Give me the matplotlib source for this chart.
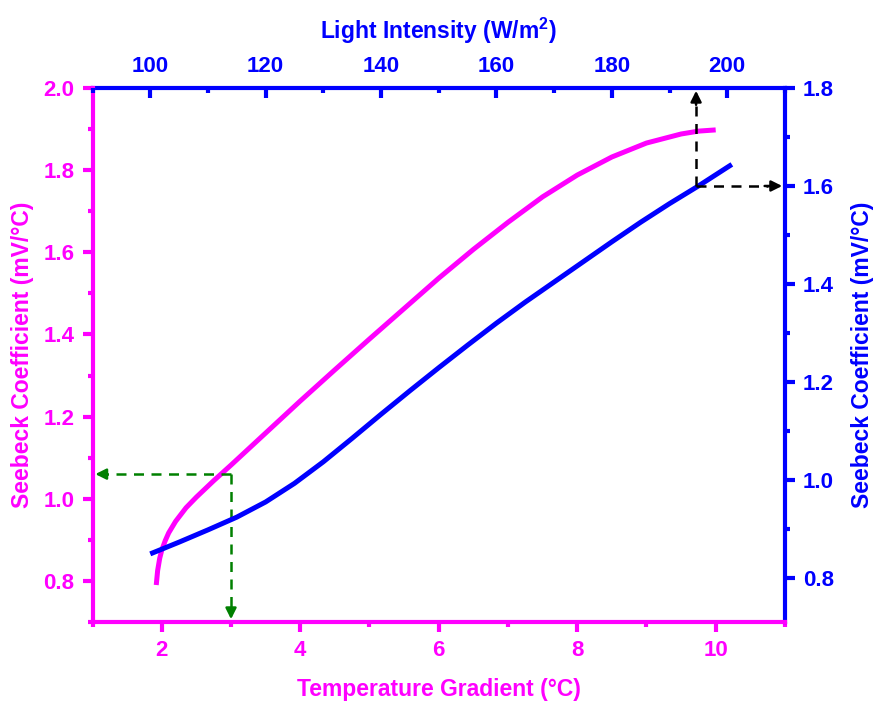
import matplotlib
matplotlib.use("Agg")
import matplotlib.pyplot as plt
import numpy as np
from matplotlib.ticker import MultipleLocator

plt.rcParams['font.family'] = ['Liberation Sans', 'DejaVu Sans']
plt.rcParams['font.weight'] = 'bold'
plt.rcParams['mathtext.fontset'] = 'custom'
plt.rcParams['mathtext.bf'] = 'Liberation Sans:bold'
plt.rcParams['mathtext.rm'] = 'Liberation Sans:bold'

# Temperature gradient series (bottom x / left y)
temp_x = [1.92, 1.94, 1.97, 2.0, 2.05, 2.1, 2.2, 2.35, 2.5, 2.75, 3.0, 3.5, 4.0, 4.5, 5.0, 5.5, 6.0,
          6.5, 7.0, 7.5, 8.0, 8.5, 9.0, 9.5, 9.75, 10.0]
temp_s = [0.79, 0.825, 0.855, 0.875, 0.898, 0.917, 0.945, 0.978, 1.004, 1.044, 1.082, 1.16, 1.238,
          1.314, 1.389, 1.463, 1.537, 1.607, 1.673, 1.735, 1.788, 1.832, 1.866, 1.888, 1.895, 1.898]

# Light intensity series (top x / right y)
light_x = [100, 105, 110, 115, 120, 125, 130, 135, 140, 145, 150, 155, 160, 165, 170, 175, 180,
           185, 190, 195, 200, 200.8]
light_s = [0.849, 0.873, 0.898, 0.924, 0.955, 0.993, 1.037, 1.085, 1.134, 1.182, 1.229, 1.275,
           1.320, 1.363, 1.404, 1.445, 1.486, 1.526, 1.564, 1.600, 1.638, 1.644]

# Guide markers
green_pt = (3.0, 1.06)
black_pt = (194.6, 1.6)

MAG = '#FF00FF'
BLU = '#0000FF'
TICK_FS = 16
LAB_FS = 16.5

fig = plt.figure(figsize=(8.78, 7.04), dpi=100)
pos = [0.1054, 0.1165, 0.7886, 0.7585]
ax = fig.add_axes(pos)
ax2 = fig.add_axes(pos, frameon=False)

ax.plot(temp_x, temp_s, color=MAG, lw=3.6, solid_capstyle='butt', solid_joinstyle='round')
ax2.plot(light_x, light_s, color=BLU, lw=3.6, solid_capstyle='butt', solid_joinstyle='round')

ax.set_xlim(1, 11)
ax.set_ylim(0.7, 2.0)
ax2.set_xlim(90, 210)
ax2.set_ylim(0.71, 1.8)

# spines
for s in ['left', 'bottom']:
    ax.spines[s].set_color(MAG)
    ax.spines[s].set_linewidth(3)
for s in ['right', 'top']:
    ax.spines[s].set_color(BLU)
    ax.spines[s].set_linewidth(3)
ax.spines['left'].set_zorder(3)

# bottom/left ticks
ax.xaxis.set_major_locator(MultipleLocator(2))
ax.xaxis.set_minor_locator(MultipleLocator(1))
ax.yaxis.set_major_locator(MultipleLocator(0.2))
ax.yaxis.set_minor_locator(MultipleLocator(0.1))
ax.tick_params(axis='both', which='major', direction='out', length=7, width=3,
               color=MAG, labelcolor=MAG, labelsize=TICK_FS, pad=6)
ax.tick_params(axis='both', which='minor', direction='out', length=3.5, width=3, color=MAG)
ax.tick_params(top=False, right=False, which='both')
ax.set_yticks([0.8, 1.0, 1.2, 1.4, 1.6, 1.8, 2.0])
ax.set_yticklabels(['0.8', '1.0', '1.2', '1.4', '1.6', '1.8', '2.0'])
ax.set_xticks([2, 4, 6, 8, 10])

# top/right ticks
ax2.xaxis.tick_top()
ax2.yaxis.tick_right()
ax2.xaxis.set_label_position('top')
ax2.yaxis.set_label_position('right')
ax2.set_xticks([100, 120, 140, 160, 180, 200])
ax2.xaxis.set_minor_locator(MultipleLocator(10))
ax2.set_yticks([0.8, 1.0, 1.2, 1.4, 1.6, 1.8])
ax2.set_yticklabels(['0.8', '1.0', '1.2', '1.4', '1.6', '1.8'])
ax2.yaxis.set_minor_locator(MultipleLocator(0.1))
ax2.tick_params(axis='x', which='major', direction='in', length=7, width=3,
                color=BLU, labelcolor=BLU, labelsize=TICK_FS, pad=8)
ax2.tick_params(axis='x', which='minor', direction='in', length=3.5, width=3, color=BLU)
ax2.tick_params(axis='y', which='major', direction='out', length=7, width=3,
                color=BLU, labelcolor=BLU, labelsize=TICK_FS, pad=6)
ax2.tick_params(axis='y', which='minor', direction='out', length=3.5, width=3, color=BLU)
for lab in ax.get_xticklabels() + ax.get_yticklabels() + ax2.get_xticklabels() + ax2.get_yticklabels():
    lab.set_fontweight('bold')

ax.set_xlabel('Temperature Gradient (°C)', color=MAG, fontsize=LAB_FS, fontweight='bold', labelpad=12)
ax.set_ylabel('Seebeck Coefficient (mV/°C)', color=MAG, fontsize=LAB_FS, fontweight='bold', labelpad=7)
ax2.set_xlabel('Light Intensity (W/m$^\\mathbf{2}$)', color=BLU, fontsize=LAB_FS, fontweight='bold', labelpad=12)
ax2.set_ylabel('Seebeck Coefficient (mV/°C)', color=BLU, fontsize=LAB_FS, fontweight='bold', labelpad=12)

# green guide lines
gx, gy = green_pt
ax.plot([gx, 1.15], [gy, gy], color='green', lw=1.8, dashes=(4, 3), clip_on=False)
ax.plot([gx, gx], [gy, 0.72], color='green', lw=1.8, dashes=(4, 3), clip_on=False)
ax.annotate('', xy=(1.0, gy), xytext=(1.2, gy),
            arrowprops=dict(arrowstyle='-|>', color='green', lw=1.8, mutation_scale=16), annotation_clip=False)
ax.annotate('', xy=(gx, 0.7), xytext=(gx, 0.74),
            arrowprops=dict(arrowstyle='-|>', color='green', lw=1.8, mutation_scale=16), annotation_clip=False)

# black guide lines
bx, by = black_pt
ax2.plot([bx, bx], [by, 1.77], color='black', lw=1.8, dashes=(4, 3), clip_on=False)
ax2.plot([bx, 207], [by, by], color='black', lw=1.8, dashes=(4, 3), clip_on=False)
ax2.annotate('', xy=(bx, 1.8), xytext=(bx, 1.76),
             arrowprops=dict(arrowstyle='-|>', color='black', lw=1.8, mutation_scale=16), annotation_clip=False)
ax2.annotate('', xy=(210, by), xytext=(206, by),
             arrowprops=dict(arrowstyle='-|>', color='black', lw=1.8, mutation_scale=16), annotation_clip=False)

fig.savefig('out.png', dpi=100)
